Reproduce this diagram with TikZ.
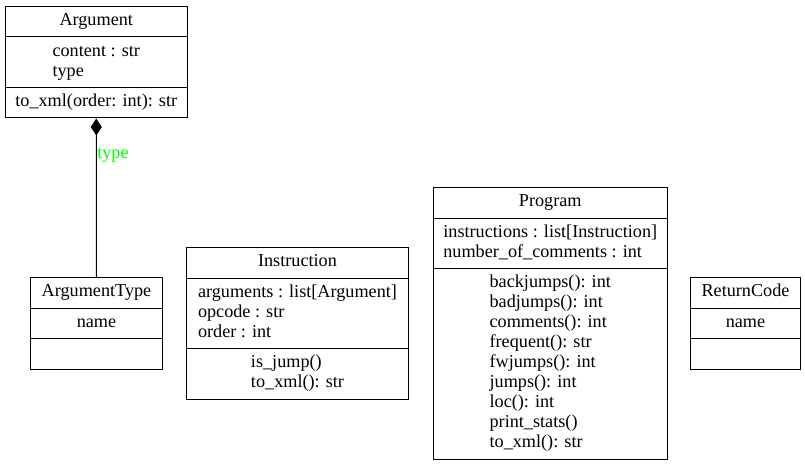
\documentclass[tikz,border=0pt]{standalone}
\usepackage{fontspec}
\setmainfont{Liberation Serif}
\usetikzlibrary{shapes.multipart,arrows.meta}
\newcommand{\mbrs}[1]{\begin{tabular}{@{}l@{}}#1\end{tabular}}

\begin{document}
\begin{tikzpicture}[x=1pt,y=-1pt,line width=1pt,
  umlclass/.style={draw,rectangle split,rectangle split parts=3,anchor=north west,
    inner xsep=0pt,inner ysep=4.75pt,font=\fontsize{18.2}{20}\selectfont}]
\useasboundingbox (0,0) rectangle (805,465);
% classes
\node[umlclass,minimum width=181.5pt] (arg) at (5,6)
  {\mbrs{Argument}\nodepart{two}\mbrs{content : str\\type}\nodepart{three}\mbrs{to\_xml(order: int): str}};
\node[umlclass,minimum width=132pt] (argtype) at (30,277)
  {\mbrs{ArgumentType}\nodepart{two}\mbrs{name}\nodepart{three}\strut};
\node[umlclass,minimum width=222pt] (instr) at (186,247)
  {\mbrs{Instruction}\nodepart{two}\mbrs{arguments : list[Argument]\\opcode : str\\order : int}%
   \nodepart{three}\mbrs{is\_jump()\\to\_xml(): str}};
\node[umlclass,minimum width=233.5pt] (prog) at (433,187)
  {\mbrs{Program}\nodepart{two}\mbrs{instructions : list[Instruction]\\number\_of\_comments : int}%
   \nodepart{three}\mbrs{backjumps(): int\\badjumps(): int\\comments(): int\\frequent(): str\\fwjumps(): int\\jumps(): int\\loc(): int\\print\_stats()\\to\_xml(): str}};
\node[umlclass,minimum width=110pt] (retcode) at (690,277)
  {\mbrs{ReturnCode}\nodepart{two}\mbrs{name}\nodepart{three}\strut};
% composition
\draw[{Diamond[length=17pt,width=11pt]}-] (arg.south) -- node[pos=0.235,anchor=west,inner sep=0.5pt,
  text=green,font=\fontsize{18.2}{20}\selectfont] (lbl) {type} (argtype.north);
\end{tikzpicture}
\end{document}
